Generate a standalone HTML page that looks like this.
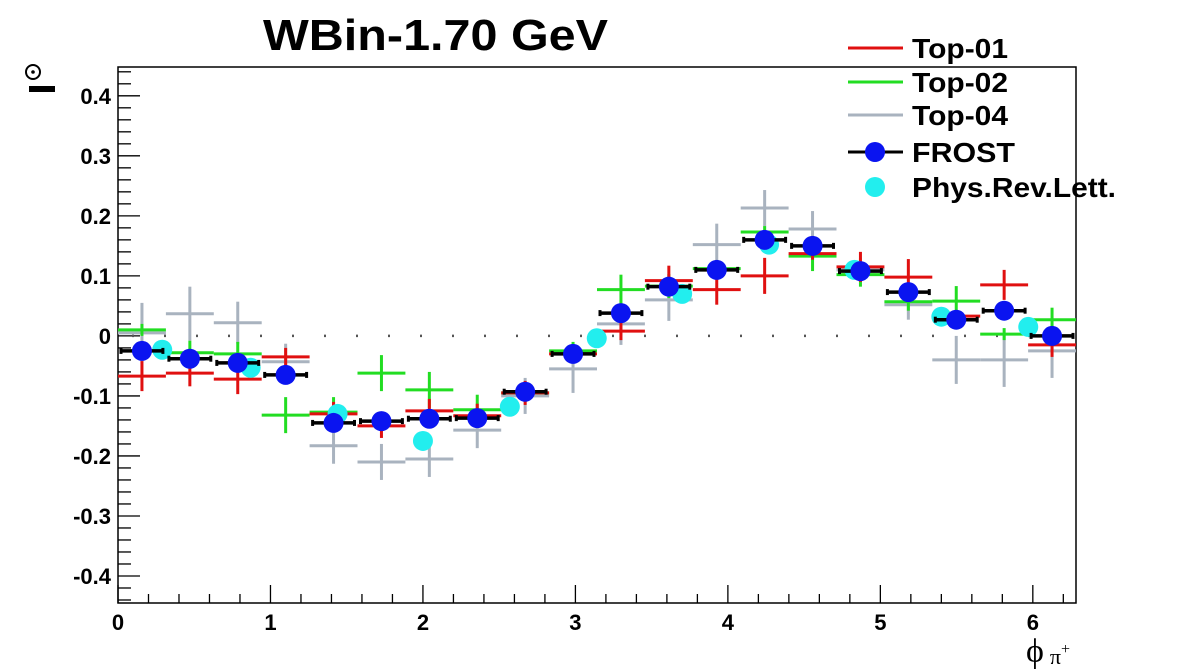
<!DOCTYPE html>
<html><head><meta charset="utf-8"><style>
body{margin:0;background:#fff;}
svg{display:block;font-family:"Liberation Sans",sans-serif;}
</style></head><body>
<svg id="chart" width="1196" height="672" viewBox="0 0 1196 672" xmlns="http://www.w3.org/2000/svg">
<rect width="1196" height="672" fill="#fff"/>
<text x="263" y="50" font-size="44" font-weight="bold" textLength="345" lengthAdjust="spacingAndGlyphs">WBin-1.70 GeV</text>
<g id="axes"></g>
<g id="marks"></g>
<g>
<rect x="29" y="86" width="26" height="6" fill="#000"/>
<circle cx="33" cy="72" r="7" fill="none" stroke="#000" stroke-width="2"/>
<circle cx="33" cy="72" r="1.8" fill="#000"/>
</g>
<text x="1026" y="662" font-size="34" font-family="Liberation Serif, DejaVu Serif, serif">ϕ<tspan font-size="22" dx="6" dy="2">π</tspan><tspan font-size="16" dy="-10">+</tspan></text>
<g id="legend"></g>
</svg>
<script>
const NS="http://www.w3.org/2000/svg";
const binCount=20;
const frost=[-0.025,-0.038,-0.045,-0.065,-0.145,-0.142,-0.138,-0.137,-0.093,-0.03,0.038,0.082,0.11,0.16,0.15,0.108,0.073,0.027,0.042,0.0];
const frostErr=[0.01,0.01,0.01,0.01,0.01,0.01,0.01,0.01,0.01,0.01,0.01,0.01,0.01,0.01,0.01,0.01,0.01,0.01,0.01,0.01];
const top01=[-0.067,-0.062,-0.072,-0.035,-0.13,-0.15,-0.125,-0.133,-0.095,-0.03,0.008,0.092,0.077,0.1,0.137,0.115,0.098,0.033,0.085,-0.015];
const top01Err=[0.025,0.022,0.025,0.015,0.02,0.02,0.02,0.02,0.02,0.015,0.015,0.025,0.025,0.03,0.01,0.025,0.03,0.01,0.025,0.02];
const top02=[0.01,-0.028,-0.03,-0.132,-0.127,-0.062,-0.09,-0.123,-0.095,-0.025,0.077,0.083,0.112,0.173,0.133,0.102,0.057,0.058,0.003,0.027];
const top02Err=[0.01,0.02,0.02,0.03,0.025,0.03,0.03,0.025,0.015,0.015,0.025,0.02,0.01,0.01,0.025,0.02,0.015,0.025,0.01,0.02];
const top04=[0.005,0.037,0.022,-0.043,-0.183,-0.21,-0.205,-0.157,-0.1,-0.055,0.02,0.06,0.152,0.213,0.178,0.11,0.052,-0.04,-0.04,-0.025];
const top04Err=[0.05,0.045,0.035,0.03,0.03,0.03,0.03,0.03,0.03,0.04,0.035,0.035,0.035,0.03,0.03,0.02,0.025,0.04,0.045,0.045];
const prlPhi=[0.29,0.87,1.44,2.0,2.57,3.14,3.70,4.27,4.83,5.40,5.97];
const prlVal=[-0.023,-0.053,-0.13,-0.175,-0.118,-0.004,0.07,0.152,0.11,0.032,0.015];
const xTicks=[0,1,2,3,4,5,6];
const yTicks=[-0.4,-0.3,-0.2,-0.1,0,0.1,0.2,0.3,0.4];
const yTickLabels=["-0.4","-0.3","-0.2","-0.1","0","0.1","0.2","0.3","0.4"];

const L=118,R=1076,T=67,B=603,xMax=2*Math.PI,yMin=-0.445,yMax=0.448;
const X=v=>L+v/xMax*(R-L);
const Y=v=>B-(v-yMin)/(yMax-yMin)*(B-T);
function el(tag,attrs,parent){const e=document.createElementNS(NS,tag);for(const k in attrs)e.setAttribute(k,attrs[k]);parent.appendChild(e);return e;}
const axes=document.getElementById('axes'),marks=document.getElementById('marks'),legend=document.getElementById('legend');

let frame=el('rect',{x:L,y:T,width:R-L,height:B-T,fill:'none',stroke:'#000','stroke-width':1.5},axes);


for(let v=0;v<=xMax+1e-9;v+=0.2){
  const major=Math.abs(v-Math.round(v))<1e-6;
  const t=el('line',{x1:X(v),x2:X(v),y1:B,y2:B-(major?18:9),stroke:'#000','stroke-width':1.3},axes);
  
  
}
xTicks.forEach(v=>{
  const t=el('text',{x:X(v),y:630,'font-size':22,'font-weight':'bold','text-anchor':'middle'},axes);t.textContent=v;
  
  
});
for(let i=-22;i<=22;i++){
  const v=i*0.02;if(v<yMin||v>yMax)continue;
  const major=i%5===0;
  const t=el('line',{x1:L,x2:L+(major?22:13),y1:Y(v),y2:Y(v),stroke:'#000','stroke-width':1.3},axes);
  
  
}
yTicks.forEach((v,i)=>{
  const t=el('text',{x:111,y:Y(v)+8,'font-size':22,'font-weight':'bold','text-anchor':'end'},axes);t.textContent=yTickLabels[i];
  
  
});
const zl=el('line',{x1:L,x2:R,y1:Y(0),y2:Y(0),stroke:'#555','stroke-width':2.5,'stroke-dasharray':'2 30','stroke-dashoffset':-14},axes);



const bw=xMax/binCount;
function crossSeries(vals,errs,color,name,w){
  vals.forEach((v,i)=>{
    const g=el('g',{},marks);
    
    
    const c=(i+0.5)*bw;
    el('line',{x1:X(i*bw),x2:X((i+1)*bw),y1:Y(v),y2:Y(v),stroke:color,'stroke-width':w},g);
    el('line',{x1:X(c),x2:X(c),y1:Y(v+errs[i]),y2:Y(v-errs[i]),stroke:color,'stroke-width':w},g);
  });
}
crossSeries(top04,top04Err,'#a9b3bf','top04-point',3);
crossSeries(top02,top02Err,'#22dd22','top02-point',3);
crossSeries(top01,top01Err,'#e01010','top01-point',3);
prlPhi.forEach((p,i)=>{
  const c=el('circle',{cx:X(p),cy:Y(prlVal[i]),r:10,fill:'#22eeee'},marks);
  
  
});
frost.forEach((v,i)=>{
  const g=el('g',{},marks);
  
  
  const c=(i+0.5)*bw,x1=X(i*bw)+3,x2=X((i+1)*bw)-3;
  el('line',{x1:x1,x2:x2,y1:Y(v),y2:Y(v),stroke:'#000','stroke-width':3.5},g);
  el('line',{x1:x1,x2:x1,y1:Y(v)-3,y2:Y(v)+3,stroke:'#000','stroke-width':3},g);
  el('line',{x1:x2,x2:x2,y1:Y(v)-3,y2:Y(v)+3,stroke:'#000','stroke-width':3},g);
  el('line',{x1:X(c),x2:X(c),y1:Y(v+frostErr[i]),y2:Y(v-frostErr[i]),stroke:'#000','stroke-width':3},g);
  el('circle',{cx:X(c),cy:Y(v),r:10,fill:'#0a14f0'},g);
});

const legItems=[["Top-01","#e01010","line",96],["Top-02","#22dd22","line",96],["Top-04","#a9b3bf","line",96],["FROST","#0a14f0","frost",103],["Phys.Rev.Lett.","#22eeee","dot",204]];
const legY=[48,82,115,152,187];
legItems.forEach((it,i)=>{
  const g=el('g',{},legend);
  
  
  const y=legY[i];
  if(it[2]==='line'){el('line',{x1:848,x2:903,y1:y,y2:y,stroke:it[1],'stroke-width':3},g);}
  else if(it[2]==='frost'){el('line',{x1:848,x2:903,y1:y,y2:y,stroke:'#000','stroke-width':3},g);el('circle',{cx:875,cy:y,r:10,fill:it[1]},g);}
  else{el('circle',{cx:875,cy:y,r:10,fill:it[1]},g);}
  const t=el('text',{x:912,y:y+10,'font-size':28,'font-weight':'bold',textLength:it[3],lengthAdjust:'spacingAndGlyphs'},g);t.textContent=it[0];
});
</script>
</body></html>
